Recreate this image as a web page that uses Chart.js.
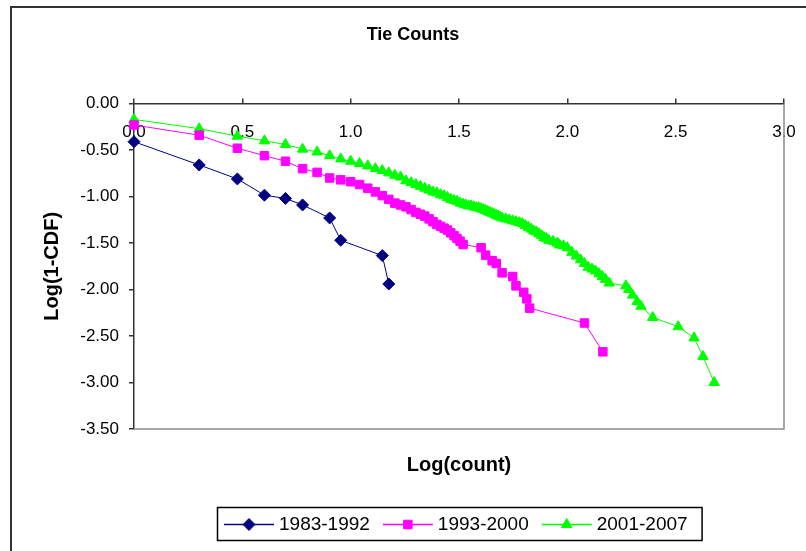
<!DOCTYPE html>
<html>
<head>
<meta charset="utf-8">
<script src="https://cdn.jsdelivr.net/npm/chart.js@4/dist/chart.umd.min.js"></script>
<style>
  html, body { margin: 0; padding: 0; background: #fff; }
  #wrap { position: relative; width: 806px; height: 551px; overflow: hidden; }
  #frame { position: absolute; left: 10px; top: 6px; width: 900px; height: 700px; border: 2px solid #333; box-sizing: border-box; pointer-events: none; }
  canvas { position: absolute; left: 0; top: 0; }
</style>
</head>
<body>
<div id="wrap">
  <canvas id="tieChart" width="806" height="551"></canvas>
  <div id="frame"></div>
</div>
<script>
// 数据：log(count) 与 log(1-CDF)
const xTicks = [0, 0.5, 1, 1.5, 2, 2.5, 3];
const yTicks = [0, -0.5, -1, -1.5, -2, -2.5, -3, -3.5];

const seriesNames = ['1983-1992', '1993-2000', '2001-2007'];

const x8392 = [0, 0.301, 0.477, 0.602, 0.699, 0.778, 0.903, 0.954, 1.146, 1.176];
const y8392 = [-0.41, -0.66, -0.81, -0.985, -1.02, -1.09, -1.23, -1.47, -1.635, -1.94];

const x9300 = [0, 0.301, 0.477, 0.602, 0.699, 0.778, 0.845, 0.903, 0.954, 1.0,
  1.041, 1.079, 1.114, 1.146, 1.176, 1.204, 1.230, 1.255, 1.279, 1.301,
  1.322, 1.342, 1.362, 1.380, 1.398, 1.415, 1.431, 1.447, 1.462, 1.477,
  1.491, 1.505, 1.519, 1.602, 1.623, 1.653, 1.672, 1.699, 1.748, 1.763,
  1.799, 1.813, 1.826, 2.079, 2.164];
const y9300 = [-0.23, -0.34, -0.48, -0.56, -0.62, -0.70, -0.74, -0.80, -0.82, -0.84,
  -0.87, -0.91, -0.95, -0.99, -1.03, -1.07, -1.09, -1.11, -1.14, -1.17,
  -1.19, -1.21, -1.24, -1.27, -1.30, -1.32, -1.34, -1.36, -1.39, -1.42,
  -1.45, -1.48, -1.515, -1.55, -1.63, -1.69, -1.72, -1.82, -1.86, -1.96,
  -2.03, -2.10, -2.20, -2.36, -2.67];

const x0107 = [0, 0.301, 0.477, 0.602, 0.699, 0.778, 0.845, 0.903, 0.954, 1.0,
  1.041, 1.079, 1.114, 1.146, 1.176, 1.204, 1.230, 1.255, 1.279, 1.301,
  1.322, 1.342, 1.362, 1.380, 1.398, 1.415, 1.431, 1.447, 1.462, 1.477,
  1.491, 1.505, 1.519, 1.531, 1.544, 1.556, 1.568, 1.580, 1.591, 1.602,
  1.613, 1.623, 1.633, 1.643, 1.653, 1.663, 1.672, 1.681, 1.690, 1.699,
  1.716, 1.732, 1.748, 1.763, 1.778, 1.792, 1.806, 1.820, 1.833, 1.845,
  1.857, 1.869, 1.881, 1.892, 1.903, 1.914, 1.934, 1.954, 1.964, 1.982,
  2.000, 2.021, 2.041, 2.061, 2.079, 2.097, 2.114, 2.130, 2.146, 2.161,
  2.176, 2.193, 2.270, 2.283, 2.301, 2.322, 2.340, 2.394, 2.512, 2.585,
  2.626, 2.678];
const y0107 = [-0.17, -0.27, -0.35, -0.40, -0.44, -0.49, -0.52, -0.56, -0.595, -0.62,
  -0.645, -0.67, -0.70, -0.72, -0.745, -0.77, -0.79, -0.83, -0.85, -0.87,
  -0.89, -0.91, -0.93, -0.95, -0.96, -0.98, -0.99, -1.01, -1.03, -1.04,
  -1.05, -1.07, -1.08, -1.09, -1.10, -1.10, -1.11, -1.12, -1.12, -1.13,
  -1.14, -1.15, -1.16, -1.17, -1.18, -1.19, -1.20, -1.21, -1.22, -1.23,
  -1.24, -1.25, -1.26, -1.27, -1.28, -1.29, -1.31, -1.33, -1.35, -1.37,
  -1.38, -1.40, -1.42, -1.44, -1.45, -1.47, -1.48, -1.50, -1.52, -1.53,
  -1.55, -1.60, -1.64, -1.68, -1.72, -1.76, -1.78, -1.80, -1.83, -1.86,
  -1.89, -1.93, -1.96, -2.00, -2.06, -2.13, -2.18, -2.30, -2.40, -2.52,
  -2.72, -3.00];

const FONT = "'Liberation Sans', Arial, sans-serif";
const MARK = 6;

function toPoints(xs, ys) {
  return xs.map((x, i) => ({ x: x, y: ys[i] }));
}

function makeSeries(name, xs, ys, color, style) {
  return {
    label: name,
    data: toPoints(xs, ys),
    showLine: true,
    borderColor: color,
    backgroundColor: color,
    borderWidth: 1,
    pointStyle: style,
    pointRadius: MARK,
    pointBorderWidth: 1,
    pointBorderColor: color,
    pointBackgroundColor: color,
    clip: false
  };
}

// 绘图区右/下灰边框
const plotBorder = {
  id: 'plotBorder',
  beforeDatasetsDraw(chart) {
    const { ctx, chartArea: a } = chart;
    ctx.save();
    ctx.strokeStyle = '#8c8c8c';
    ctx.lineWidth = 1.5;
    ctx.beginPath();
    ctx.moveTo(a.left, a.bottom);
    ctx.lineTo(a.right, a.bottom);
    ctx.lineTo(a.right, a.top);
    ctx.stroke();
    ctx.restore();
  }
};

// 图例：带边框，线段 + 标记
const boxLegend = {
  id: 'boxLegend',
  afterDraw(chart) {
    const { ctx, chartArea: a } = chart;
    const sets = chart.data.datasets;
    ctx.save();
    ctx.font = '19px ' + FONT;
    const lineLen = 50, gap = 5, itemGap = 13, padL = 7, padR = 14;
    let total = padL + padR;
    const widths = sets.map(d => ctx.measureText(d.label).width);
    widths.forEach((w, i) => { total += lineLen + gap + w + (i < sets.length - 1 ? itemGap : 0); });
    const boxTop = 507, boxH = 33;
    const cx = (a.left + a.right) / 2;
    let x = Math.round(cx - total / 2);
    ctx.strokeStyle = '#000';
    ctx.lineWidth = 1.5;
    ctx.strokeRect(x + 0.5, boxTop + 0.5, total, boxH);
    const cy = boxTop + boxH / 2 + 1;
    x += padL;
    sets.forEach((d, i) => {
      ctx.strokeStyle = d.borderColor;
      ctx.fillStyle = d.borderColor;
      ctx.lineWidth = 1.5;
      ctx.beginPath();
      ctx.moveTo(x, cy);
      ctx.lineTo(x + lineLen, cy);
      ctx.stroke();
      ctx.lineWidth = 1;
      Chart.helpers.drawPoint(ctx, { pointStyle: d.pointStyle, radius: MARK, rotation: 0, borderWidth: 1 }, x + lineLen / 2, cy);
      x += lineLen + gap;
      ctx.fillStyle = '#000';
      ctx.textBaseline = 'middle';
      ctx.textAlign = 'left';
      ctx.fillText(d.label, x, cy);
      x += widths[i] + itemGap;
    });
    ctx.restore();
  }
};

new Chart(document.getElementById('tieChart'), {
  type: 'scatter',
  data: {
    datasets: [
      makeSeries(seriesNames[0], x8392, y8392, '#000080', 'rectRot'),
      makeSeries(seriesNames[1], x9300, y9300, '#ff00ff', 'rect'),
      makeSeries(seriesNames[2], x0107, y0107, '#00ff00', 'triangle')
    ]
  },
  options: {
    responsive: false,
    animation: false,
    events: [],
    layout: { padding: { left: 42, right: 22, top: 0, bottom: 72 } },
    plugins: {
      legend: { display: false },
      tooltip: { enabled: false },
      title: {
        display: true,
        text: 'Tie Counts',
        color: '#000',
        font: { family: FONT, size: 18, weight: 'bold' },
        padding: { top: 24, bottom: 53 }
      }
    },
    scales: {
      x: {
        type: 'linear',
        position: 'top',
        min: 0,
        max: 3,
        afterBuildTicks: s => { s.ticks = xTicks.map(v => ({ value: v })); },
        ticks: {
          mirror: true,
          padding: 19,
          color: '#000',
          font: { family: FONT, size: 17 },
          callback: v => v.toFixed(1)
        },
        grid: { drawOnChartArea: false, tickLength: 5, color: '#333', lineWidth: 1.5 },
        border: { color: '#333', width: 1.5 },
        afterFit: s => { s.height = 5; s.paddingLeft = 0; s.paddingRight = 0; }
      },
      x2: {
        type: 'linear',
        position: 'bottom',
        min: 0,
        max: 3,
        ticks: { display: false },
        grid: { display: false },
        border: { display: false },
        title: {
          display: true,
          text: 'Log(count)',
          color: '#000',
          font: { family: FONT, size: 20, weight: 'bold' },
          padding: { top: 0, bottom: 2 }
        },
        afterFit: s => { s.height = 50; }
      },
      y: {
        type: 'linear',
        min: -3.5,
        max: 0,
        afterBuildTicks: s => { s.ticks = yTicks.map(v => ({ value: v })); },
        ticks: {
          padding: 10,
          color: '#000',
          font: { family: FONT, size: 17 },
          callback: v => v.toFixed(2)
        },
        grid: { drawOnChartArea: false, tickLength: 5, color: '#333', lineWidth: 1.5 },
        border: { color: '#333', width: 1.5 },
        title: {
          display: true,
          text: 'Log(1-CDF)',
          color: '#000',
          font: { family: FONT, size: 20, weight: 'bold' },
          padding: { top: -2, bottom: 0 }
        },
        afterFit: s => { s.width = 92; }
      }
    }
  },
  plugins: [plotBorder, boxLegend]
});
</script>
</body>
</html>
